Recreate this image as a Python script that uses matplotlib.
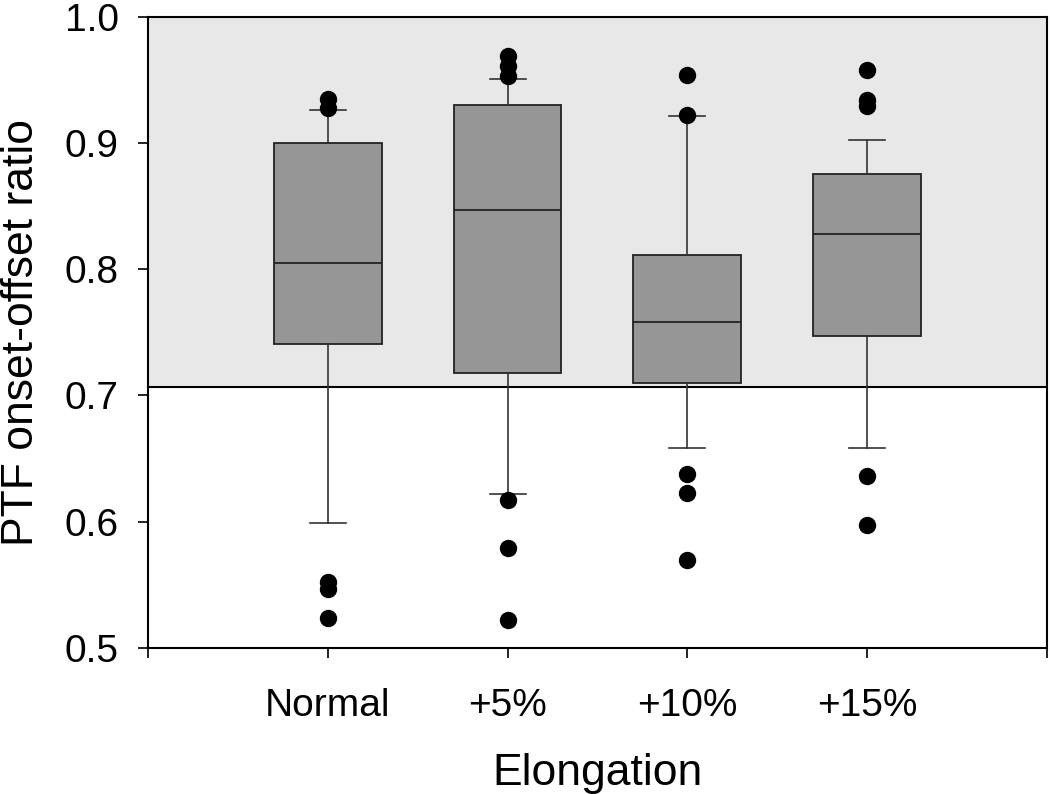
import numpy as np
import matplotlib
matplotlib.use("Agg")
import matplotlib.pyplot as plt
from matplotlib import rc
rc("font", **{"family": "sans-serif", "sans-serif": ["Liberation Sans", "DejaVu Sans"]})

groups = ["Normal", "+5%", "+10%", "+15%"]
q1 = [0.741, 0.718, 0.710, 0.747]
med = [0.805, 0.847, 0.758, 0.828]
q3 = [0.900, 0.930, 0.811, 0.875]
whislo = [0.599, 0.622, 0.658, 0.658]
whishi = [0.926, 0.951, 0.921, 0.902]
fliers = [[0.935, 0.928, 0.552, 0.547, 0.524],
          [0.969, 0.961, 0.953, 0.617, 0.579, 0.522],
          [0.954, 0.922, 0.638, 0.623, 0.570],
          [0.958, 0.934, 0.929, 0.636, 0.597]]
threshold = 0.707  # 1/sqrt(2)

stats = []
for i, g in enumerate(groups):
    stats.append({"label": g, "q1": q1[i], "med": med[i], "q3": q3[i],
                  "whislo": whislo[i], "whishi": whishi[i], "fliers": fliers[i]})

fig = plt.figure(figsize=(10.5, 7.94), dpi=100)
ax = fig.add_axes([0.141, 0.184, 0.856, 0.795])

ax.axhspan(threshold, 1.0, facecolor="#e8e8e8", edgecolor="none", zorder=0)
ax.axhline(threshold, color="black", lw=1.5, zorder=1)

pos = np.arange(1, len(groups) + 1)
ax.bxp(stats, positions=pos, widths=0.6, patch_artist=True, showfliers=True,
       boxprops=dict(facecolor="#969696", edgecolor="#222222", lw=1.3),
       medianprops=dict(color="#222222", lw=1.3),
       whiskerprops=dict(color="#333333", lw=1.2),
       capprops=dict(color="#333333", lw=1.2),
       capwidths=0.2,
       flierprops=dict(marker="o", markerfacecolor="black", markeredgecolor="black",
                       markersize=11.5, linestyle="none"),
       zorder=2)

ax.set_xlim(0, 5)
ax.set_ylim(0.5, 1.0)
ax.set_xticks([0, 1, 2, 3, 4, 5])
ax.set_xticklabels([""] + groups + [""])
ax.set_yticks([0.5, 0.6, 0.7, 0.8, 0.9, 1.0])
ax.set_yticklabels(["0.5", "0.6", "0.7", "0.8", "0.9", "1.0"])
ax.tick_params(axis="both", labelsize=28, length=7, width=1.2, direction="out")
ax.tick_params(axis="y", pad=14)
ax.tick_params(axis="x", pad=22)
for s in ax.spines.values():
    s.set_linewidth(1.5)

ax.set_xlabel("Elongation", fontsize=32)
ax.set_ylabel("PTF onset-offset ratio", fontsize=32)
ax.xaxis.set_label_coords(0.5, -0.166)
ax.yaxis.set_label_coords(-0.118, 0.5)

plt.savefig("out.png", dpi=100)
